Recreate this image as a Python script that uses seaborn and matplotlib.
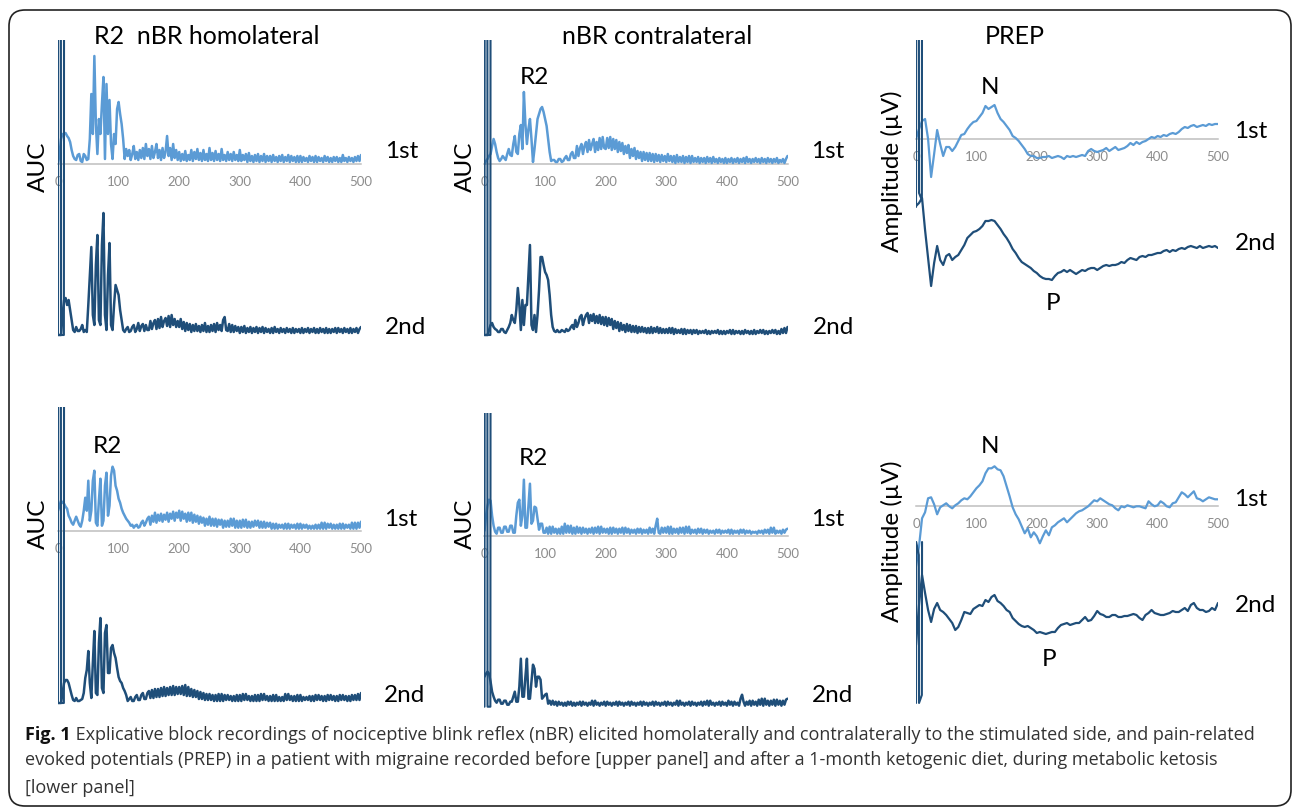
import numpy as np
import matplotlib
matplotlib.use("Agg")
import matplotlib.pyplot as plt
from matplotlib.patches import FancyBboxPatch
from matplotlib.transforms import IdentityTransform
import seaborn as sns

W, H = 1293, 808

# time bases in ms: blink reflex sampled every 2.5 ms, PREP every 5 ms
t_nbr = np.arange(0, 502.5, 2.5)
t_prep = np.arange(0, 505, 5)
# stimulus artefact at the start of every recording (three near-vertical strokes)
art_t = [0, 0.3, 4.7, 5, 9.7, 10]

# ---- upper panel (before diet) ----
hom_pre_1st = [0, 10, 25, 30, 30, 31, 28, 26, 22, 14, 8, 5, 4, 9, 10, 3, 2, 10, 8, 4,
               5, 25, 70, 30, 108, 40, 10, 45, 30, 60, 87, 5, 80, 30, 64, 20, 5, 30, 20, 55,
               62, 50, 40, 25, 5, 15, 8, 14, 4, 10, 18, 5, 12, 4, 14, 6, 16, 5, 20, 8,
               15, 5, 18, 6, 12, 20, 6, 14, 4, 16, 6, 12, 28, 8, 16, 4, 20, 6, 14, 4,
               12, 3, 10, 4, 13, 3, 9, 4, 14, 3, 12, 5, 15, 4, 11, 3, 14, 4, 10, 3,
               16, 4, 11, 3, 13, 4, 10, 3, 15, 4, 9, 3, 12, 4, 10, 3, 12, 4, 9, 3,
               14, 3, 9, 4, 10, 2, 11, 3, 8, 2, 9, 3, 10, 2, 8, 3, 10, 2, 8, 3,
               8, 2, 9, 3, 7, 2, 8, 3, 9, 2, 7, 3, 9, 2, 8, 3, 7, 2, 8, 2,
               8, 2, 7, 3, 6, 2, 8, 3, 7, 2, 8, 2, 7, 3, 6, 2, 8, 3, 7, 2,
               6, 2, 7, 3, 7, 2, 6, 2, 9, 3, 6, 2, 7, 3, 6, 2, 7, 3, 8, 3,
               9]
hom_pre_2nd = [0, 0, 0, 20, 35, 37, 30, 35, 25, 15, 5, 3, 8, 4, 4, 6, 10, 3, 5, 3,
               30, 60, 88, 20, 10, 70, 100, 15, 10, 90, 122, 20, 5, 60, 92, 10, 5, 30, 50, 45,
               40, 25, 15, 5, 3, 6, 8, 3, 4, 8, 10, 3, 6, 12, 4, 9, 11, 4, 10, 5,
               5, 14, 6, 12, 15, 6, 16, 7, 18, 8, 14, 17, 9, 19, 8, 20, 10, 16, 8, 14,
               8, 16, 6, 13, 4, 12, 5, 11, 3, 10, 4, 11, 4, 9, 3, 10, 4, 12, 3, 9,
               3, 10, 4, 11, 3, 12, 5, 10, 4, 15, 18, 5, 4, 11, 3, 10, 3, 9, 4, 8,
               2, 8, 3, 9, 2, 7, 3, 8, 2, 7, 3, 8, 2, 7, 3, 8, 2, 7, 3, 6,
               2, 7, 2, 8, 3, 6, 2, 7, 3, 6, 2, 7, 3, 6, 2, 7, 2, 6, 3, 6,
               2, 7, 2, 6, 3, 7, 2, 6, 3, 7, 2, 6, 2, 7, 3, 6, 2, 7, 2, 6,
               2, 6, 3, 7, 2, 7, 3, 6, 2, 7, 3, 6, 2, 7, 2, 6, 3, 7, 2, 6,
               8]
hom_pre_art = [0, 400, 400, 0, 0, 400]

con_pre_1st = [0, 3, 5, 8, 10, 18, 25, 20, 12, 6, 3, 5, 8, 6, 4, 10, 15, 9, 8, 20,
               28, 12, 10, 30, 39, 15, 72, 40, 20, 35, 45, 25, 2, 15, 30, 45, 50, 55, 57, 52,
               45, 38, 25, 12, 3, 4, 4, 2, 2, 5, 5, 2, 3, 6, 8, 4, 4, 10, 12, 6,
               6, 18, 8, 16, 20, 10, 18, 22, 12, 24, 14, 20, 25, 12, 22, 14, 26, 15, 27, 16,
               15, 26, 16, 27, 14, 25, 15, 24, 12, 22, 13, 21, 10, 18, 11, 19, 6, 15, 8, 16,
               5, 13, 6, 12, 3, 12, 4, 11, 3, 11, 3, 10, 2, 10, 3, 9, 2, 9, 3, 8,
               2, 10, 3, 8, 2, 8, 1, 9, 2, 7, 2, 8, 1, 7, 2, 8, 1, 8, 2, 6,
               2, 7, 1, 6, 2, 6, 1, 7, 2, 6, 1, 7, 2, 5, 1, 6, 2, 5, 1, 6,
               1, 5, 2, 6, 1, 5, 2, 6, 1, 5, 2, 6, 1, 7, 2, 5, 1, 5, 2, 6,
               2, 5, 1, 6, 2, 5, 1, 6, 2, 5, 1, 5, 2, 6, 1, 4, 2, 5, 1, 5,
               8]
con_pre_2nd = [0, 0, 0, 5, 10, 12, 8, 6, 5, 3, 3, 6, 6, 3, 2, 5, 8, 12, 20, 15,
               12, 25, 47, 30, 5, 35, 10, 30, 30, 60, 90, 10, 5, 20, 3, 20, 45, 78, 78, 70,
               63, 60, 55, 40, 20, 8, 4, 3, 5, 3, 3, 5, 4, 3, 6, 4, 5, 8, 10, 6,
               15, 8, 12, 18, 20, 10, 16, 20, 22, 12, 20, 14, 21, 12, 19, 12, 20, 11, 18, 10,
               18, 9, 17, 10, 16, 6, 14, 7, 13, 4, 12, 5, 10, 3, 11, 4, 10, 3, 9, 3,
               9, 2, 8, 3, 8, 3, 7, 2, 7, 2, 8, 2, 7, 3, 8, 2, 7, 2, 6, 2,
               6, 2, 7, 2, 7, 1, 6, 2, 5, 2, 6, 1, 6, 1, 5, 2, 5, 1, 5, 2,
               5, 1, 4, 2, 4, 2, 5, 1, 4, 1, 4, 2, 4, 2, 5, 1, 4, 1, 4, 1,
               4, 2, 5, 1, 5, 1, 4, 2, 4, 1, 4, 1, 5, 2, 4, 1, 4, 1, 5, 1,
               4, 2, 5, 2, 5, 1, 4, 1, 4, 2, 5, 2, 5, 1, 4, 1, 6, 2, 7, 2,
               8]
con_pre_art = [0, 400, 400, 0, 0, 400]

prep_pre_1st = [0, 10, 18, 20, 0, -38, -15, 9, -5, -17,
                -8, -8, -12, -8, -2, 4, 5, 10, 14, 17,
                18, 22, 26, 33, 30, 32, 34, 26, 20, 17,
                13, 9, 3, 1, -2, -6, -10, -15, -17, -17,
                -19, -19, -18, -18, -17, -19, -18, -17, -18, -20,
                -17, -18, -17, -18, -17, -16, -17, -12, -10, -12,
                -13, -12, -11, -9, -12, -10, -8, -11, -10, -9,
                -7, -4, -6, -3, -5, -3, -2, 0, 2, 1,
                3, 2, 4, 3, 5, 6, 5, 7, 10, 12,
                11, 13, 14, 12, 13, 14, 13, 15, 14, 15,
                15]
prep_pre_2nd = [42, 45, 50, 18, -10, -38, -15, 2, -12, -17,
                -8, -6, -12, -9, -7, -2, 3, 10, 13, 16,
                17, 19, 22, 27, 27, 28, 27, 23, 19, 14,
                10, 5, -1, -5, -10, -14, -16, -18, -20, -23,
                -25, -28, -30, -31, -31, -32, -28, -25, -24, -22,
                -24, -22, -24, -26, -24, -22, -23, -21, -20, -20,
                -22, -20, -18, -17, -18, -17, -17, -16, -14, -15,
                -12, -10, -11, -12, -9, -8, -9, -7, -7, -6,
                -5, -5, -3, -2, -4, -2, -3, -1, 0, -1,
                1, 2, 1, 0, 2, 0, 1, 2, 1, 2,
                0]
prep_pre_art = [41, 300, 300, 55, 48, 300]

# ---- lower panel (after ketogenic diet) ----
hom_post_1st = [20, 25, 30, 28, 27, 24, 22, 15, 12, 8, 6, 10, 14, 10, 6, 4, 10, 20, 33, 20,
                50, 10, 20, 50, 60, 8, 5, 30, 52, 5, 10, 45, 58, 15, 25, 55, 64, 60, 45, 40,
                32, 28, 22, 18, 15, 12, 10, 8, 5, 6, 3, 5, 6, 3, 4, 8, 10, 5, 8, 12,
                14, 6, 15, 9, 18, 8, 16, 10, 17, 9, 16, 11, 18, 9, 17, 12, 19, 10, 18, 13,
                20, 10, 19, 12, 17, 9, 18, 10, 18, 8, 16, 9, 15, 7, 14, 8, 13, 5, 12, 6,
                14, 5, 12, 5, 12, 4, 11, 6, 11, 3, 10, 4, 10, 4, 12, 5, 12, 3, 10, 3,
                10, 3, 11, 4, 11, 3, 9, 3, 9, 4, 10, 5, 10, 3, 9, 3, 9, 3, 8, 4,
                8, 2, 7, 2, 7, 2, 6, 3, 6, 2, 7, 2, 7, 2, 6, 3, 6, 2, 7, 2,
                7, 2, 6, 3, 6, 2, 5, 2, 5, 2, 6, 2, 6, 2, 8, 2, 8, 2, 7, 3,
                7, 2, 6, 2, 6, 2, 7, 2, 7, 2, 6, 3, 6, 2, 8, 2, 8, 2, 8, 3,
                9]
hom_post_2nd = [0, 0, 0, 10, 20, 23, 23, 20, 14, 8, 3, 2, 5, 2, 2, 3, 4, 10, 25, 33,
                52, 20, 5, 40, 72, 10, 8, 60, 85, 15, 10, 70, 78, 30, 30, 55, 58, 50, 45, 35,
                26, 22, 20, 15, 12, 8, 2, 4, 6, 2, 2, 6, 8, 3, 3, 8, 10, 4, 4, 10,
                12, 5, 13, 5, 14, 6, 14, 6, 15, 7, 16, 7, 15, 8, 16, 8, 17, 8, 16, 9,
                16, 9, 17, 8, 18, 7, 16, 7, 14, 6, 13, 6, 12, 4, 11, 4, 10, 3, 9, 3,
                9, 3, 8, 2, 8, 2, 9, 2, 9, 2, 8, 3, 8, 3, 7, 2, 7, 2, 8, 2,
                8, 2, 9, 3, 9, 3, 7, 2, 7, 2, 8, 2, 8, 2, 9, 3, 9, 3, 7, 2,
                7, 2, 8, 2, 8, 2, 6, 2, 6, 2, 9, 3, 9, 3, 7, 2, 7, 2, 8, 2,
                8, 2, 6, 3, 6, 3, 7, 2, 7, 2, 8, 3, 8, 3, 7, 2, 7, 2, 8, 3,
                8, 3, 7, 2, 7, 2, 8, 3, 8, 3, 7, 2, 7, 2, 8, 3, 8, 3, 9, 3,
                10]
hom_post_art = [0, 400, 400, 0, 0, 400]

con_post_1st = [5, 20, 30, 36, 35, 20, 10, 4, 2, 8, 8, 3, 3, 9, 9, 4, 4, 10, 10, 3,
                3, 20, 33, 36, 10, 20, 56, 8, 8, 30, 52, 12, 15, 29, 28, 17, 6, 12, 12, 3,
                3, 8, 2, 9, 2, 9, 3, 7, 2, 7, 2, 9, 2, 12, 3, 10, 3, 10, 2, 8,
                2, 9, 3, 8, 2, 8, 3, 7, 2, 7, 3, 8, 2, 8, 3, 9, 2, 9, 3, 7,
                3, 7, 2, 8, 2, 8, 3, 7, 2, 7, 3, 8, 2, 8, 3, 7, 2, 6, 3, 6,
                2, 7, 3, 7, 2, 6, 3, 6, 2, 8, 3, 7, 2, 10, 17, 3, 2, 8, 3, 8,
                3, 9, 2, 9, 2, 7, 3, 7, 2, 8, 3, 8, 2, 9, 3, 9, 2, 6, 3, 6,
                2, 7, 3, 7, 2, 6, 3, 6, 2, 5, 3, 5, 2, 6, 3, 6, 2, 5, 3, 5,
                3, 6, 2, 6, 2, 5, 3, 5, 2, 6, 3, 6, 2, 5, 3, 5, 2, 4, 3, 4,
                2, 5, 3, 5, 2, 6, 3, 6, 2, 8, 3, 8, 2, 5, 3, 5, 2, 6, 3, 6,
                7]
con_post_2nd = [30, 33, 35, 33, 25, 15, 10, 6, 4, 7, 7, 3, 3, 6, 6, 2, 2, 5, 5, 10,
                15, 5, 5, 20, 48, 10, 10, 30, 48, 8, 8, 25, 42, 38, 20, 30, 30, 27, 8, 10,
                12, 13, 3, 6, 2, 6, 2, 5, 1, 5, 2, 4, 1, 4, 1, 5, 2, 5, 1, 4,
                1, 4, 2, 5, 1, 5, 2, 4, 1, 4, 2, 6, 1, 6, 2, 4, 1, 4, 2, 5,
                1, 5, 2, 4, 1, 4, 2, 5, 1, 5, 2, 4, 1, 4, 2, 5, 1, 5, 2, 4,
                1, 4, 2, 5, 1, 5, 2, 4, 1, 4, 2, 5, 1, 5, 2, 4, 1, 4, 2, 5,
                1, 5, 2, 4, 1, 4, 2, 6, 1, 6, 2, 4, 1, 4, 2, 5, 1, 5, 2, 4,
                1, 4, 2, 5, 1, 5, 2, 6, 1, 6, 2, 4, 1, 4, 2, 5, 1, 5, 2, 4,
                1, 6, 2, 5, 1, 5, 2, 4, 1, 8, 12, 5, 1, 5, 2, 6, 1, 6, 2, 5,
                1, 7, 2, 8, 1, 8, 2, 6, 1, 6, 2, 7, 1, 7, 2, 6, 1, 6, 2, 7,
                8]
con_post_art = [0, 400, 400, 0, 0, 400]

prep_post_1st = [-60, -40, -12, -6, 8, 9, 2, -8, -1, 1,
                 3, 0, -2, 1, 3, 6, 8, 7, 10, 14,
                 18, 21, 25, 33, 38, 38, 40, 37, 36, 30,
                 20, 10, -1, -8, -13, -20, -27, -22, -31, -26,
                 -30, -37, -30, -24, -29, -21, -19, -16, -14, -12,
                 -16, -13, -10, -7, -5, -4, -2, 0, 3, 6,
                 5, 8, 6, 4, 2, 1, -2, -4, 0, -1,
                 1, 0, -1, 0, 0, -1, -2, 5, 2, 0,
                 1, 5, 3, 0, -1, 3, 4, 9, 14, 12,
                 9, 12, 15, 8, 7, 5, 7, 9, 8, 7,
                 7]
prep_post_2nd = [-30, 10, 40, 22, 5, -7, 6, 12, 5, 3,
                 0, -4, -8, -15, -12, -5, 3, 2, 1, 6,
                 8, 10, 9, 15, 13, 18, 20, 14, 12, 9,
                 5, 3, -3, -6, -9, -11, -12, -11, -13, -15,
                 -18, -17, -18, -19, -18, -17, -17, -13, -10, -9,
                 -8, -10, -9, -8, -8, -5, -2, -6, -5, -1,
                 4, 1, 0, -2, -2, 0, 0, -2, -2, -1,
                 -1, 0, 1, 0, -3, -5, 0, 2, 5, 2,
                 1, 0, 0, 1, 2, 4, 3, 3, 5, 7,
                 4, 10, 12, 7, 5, 5, 3, 4, 7, 5,
                 12]
prep_post_art = [-88, 73, 60, -88, -80, 73]

x_ticks = [0, 100, 200, 300, 400, 500]
titles = ["R2  nBR homolateral", "nBR contralateral", "PREP"]
caption_bold = "Fig. 1"
caption_lines = [
    " Explicative block recordings of nociceptive blink reflex (nBR) elicited homolaterally and contralaterally to the stimulated side, and pain-related",
    "evoked potentials (PREP) in a patient with migraine recorded before [upper panel] and after a 1-month ketogenic diet, during metabolic ketosis",
    "[lower panel]",
]

LIGHT = "#5B9BD5"
DARK = "#1F4E79"

sns.set_theme(style="white")
plt.rcParams['font.family'] = ['Lato', 'DejaVu Sans']

fig = plt.figure(figsize=(W / 100, H / 100), dpi=100)

# (x0, x1, top, bottom, 1st baseline, 2nd baseline) in pixels, then line width
layout = [
    (58, 361, 40, 340, 164, 335, 1.8),
    (484.5, 787.5, 40, 340, 164, 335, 1.8),
    (916, 1218, 40, 300, 139, 248, 1.6),
    (58, 361, 407, 708, 530.7, 703, 1.8),
    (484.5, 787.5, 413, 712, 535.7, 706.7, 1.8),
    (916, 1218, 440, 712, 506.3, 615, 1.6),
]
traces = [
    (t_nbr, hom_pre_1st, hom_pre_2nd, hom_pre_art),
    (t_nbr, con_pre_1st, con_pre_2nd, con_pre_art),
    (t_prep, prep_pre_1st, prep_pre_2nd, prep_pre_art),
    (t_nbr, hom_post_1st, hom_post_2nd, hom_post_art),
    (t_nbr, con_post_1st, con_post_2nd, con_post_art),
    (t_prep, prep_post_1st, prep_post_2nd, prep_post_art),
]

for (x0, x1, top, bottom, b1, b2, lw), (tt, first, second, art) in zip(layout, traces):
    assert len(first) == len(tt) and len(second) == len(tt), (len(first), len(second))
    ax = fig.add_axes([x0 / W, 1 - bottom / H, (x1 - x0) / W, (bottom - top) / H])
    ax.patch.set_visible(False)
    off = b2 - b1
    sns.lineplot(x=tt, y=np.array(first) + off, ax=ax, color=LIGHT, lw=lw,
                 estimator=None, zorder=3)
    sns.lineplot(x=tt, y=second, ax=ax, color=DARK, lw=lw, estimator=None, zorder=4)
    sns.lineplot(x=art_t, y=art, ax=ax, color=DARK, lw=1.5, estimator=None,
                 sort=False, zorder=4)
    ax.set_xlim(0, 500)
    ax.set_ylim(b2 - bottom, b2 - top)
    for s in ['top', 'right', 'left']:
        ax.spines[s].set_visible(False)
    ax.spines['bottom'].set_position(('data', off))
    ax.spines['bottom'].set_color('#BFBFBF')
    ax.spines['bottom'].set_linewidth(1.1)
    ax.set_xticks(x_ticks)
    ax.set_yticks([])
    ax.tick_params(axis='x', length=0, pad=8.5, labelsize=9.5, labelcolor='#8C8C8C')
    ax.set_xlabel('')
    ax.set_ylabel('')


def put(x, y, s, **kw):
    kw.setdefault('fontsize', 17.5)
    return fig.text(x / W, 1 - y / H, s, ha='center', va='center', color='black', **kw)


# titles
for x, s in zip([207, 657, 1015], titles):
    put(x, 37, s, fontsize=18)

# component labels
put(534, 77, "R2")
put(107, 446, "R2")
put(533, 459, "R2")
put(990, 88, "N")
put(1053, 303, "P")
put(990, 446, "N")
put(1049, 659, "P")

# session labels
for x, y in [(402, 152), (828, 152), (1251, 132), (401, 520), (828, 520), (1251, 499)]:
    put(x, y, "1st")
for x, y in [(406, 327), (833, 327), (1256, 244), (405, 696), (832, 696), (1256, 606)]:
    put(x, y, "2nd")

# y labels
for x, y in [(38, 167), (465, 167), (38, 524), (465, 524)]:
    put(x, y, "AUC", rotation=90)
for x, y in [(892, 171), (892, 541)]:
    put(x, y, "Amplitude (µV)", rotation=90)

# caption, sized so that the first line spans the same width as the original
renderer = fig.canvas.get_renderer()
cap_fs = 12.0
probe = fig.text(0, 0, caption_bold + caption_lines[0], fontsize=cap_fs, family='Open Sans')
cap_fs = cap_fs * 1225 / probe.get_window_extent(renderer).width
probe.remove()

bold = fig.text(25 / W, 1 - 735 / H, caption_bold, fontsize=cap_fs, family='Open Sans',
                weight='bold', color='#111111', va='center')
bw = bold.get_window_extent(renderer).width
fig.text((25 + bw) / W, 1 - 735 / H, caption_lines[0], fontsize=cap_fs, family='Open Sans',
         color='#333333', va='center')
for y, s in zip([760, 788], caption_lines[1:]):
    fig.text(25 / W, 1 - y / H, s, fontsize=cap_fs, family='Open Sans', color='#333333',
             va='center')

# rounded frame around the whole figure (pixel coordinates)
frame = FancyBboxPatch((9, H - 806), 1282, 796, boxstyle="round,pad=0,rounding_size=16",
                       transform=IdentityTransform(), fill=False, edgecolor='#222222',
                       linewidth=1.2)
fig.patches.append(frame)

fig.savefig("out.png", dpi=100)
